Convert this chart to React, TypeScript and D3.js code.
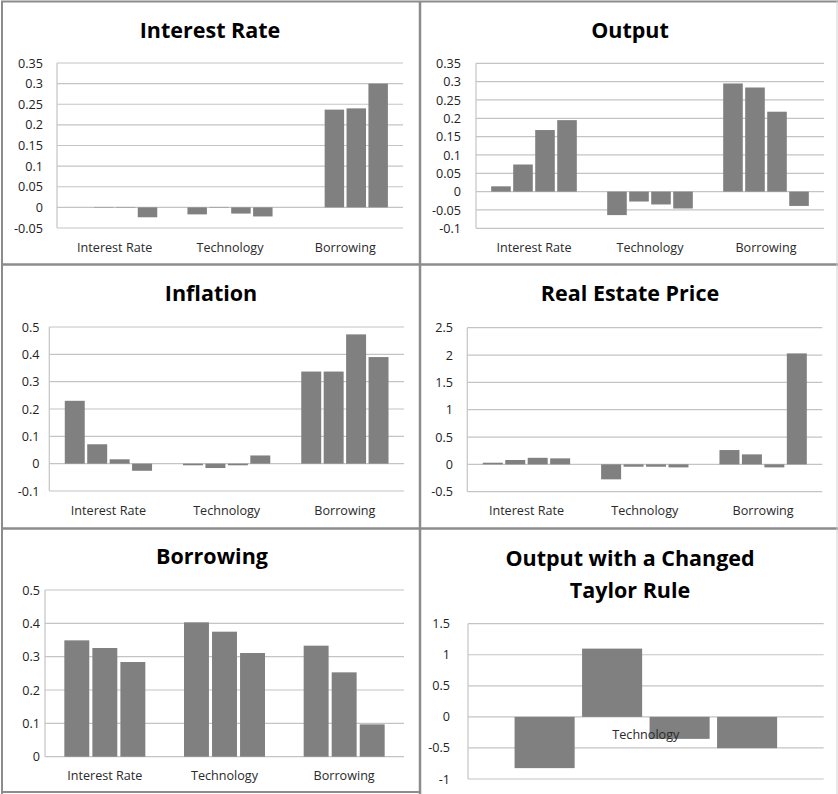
import React from "react";
import * as d3 from "d3";

// ---------- data ----------
const categories = ["Interest Rate", "Technology", "Borrowing"];

// values per category, one entry per series
const interestRateValues = [
  [0, 0.001, 0.001, -0.024],
  [-0.017, 0.001, -0.015, -0.022],
  [0, 0.237, 0.24, 0.3],
];
const outputValues = [
  [0.0145, 0.074, 0.168, 0.195],
  [-0.064, -0.027, -0.035, -0.046],
  [0.295, 0.284, 0.218, -0.039],
];
const inflationValues = [
  [0.23, 0.071, 0.016, -0.026],
  [-0.006, -0.016, -0.006, 0.03],
  [0.337, 0.337, 0.473, 0.39],
];
const realEstateValues = [
  [0.03, 0.08, 0.12, 0.11],
  [-0.274, -0.043, -0.043, -0.055],
  [0.262, 0.183, -0.055, 2.03],
];
const borrowingValues = [
  [0.349, 0.326, 0.284],
  [0.403, 0.375, 0.311],
  [0.333, 0.253, 0.097],
];
const taylorCategories = ["Technology"];
const taylorValues = [[-0.825, 1.099, -0.354, -0.504]];

const interestRateTicks = [-0.05, 0, 0.05, 0.1, 0.15, 0.2, 0.25, 0.3, 0.35];
const outputTicks = [-0.1, -0.05, 0, 0.05, 0.1, 0.15, 0.2, 0.25, 0.3, 0.35];
const inflationTicks = [-0.1, 0, 0.1, 0.2, 0.3, 0.4, 0.5];
const realEstateTicks = [-0.5, 0, 0.5, 1, 1.5, 2, 2.5];
const borrowingTicks = [0, 0.1, 0.2, 0.3, 0.4, 0.5];
const taylorTicks = [-1, -0.5, 0, 0.5, 1, 1.5];

// ---------- layout ----------
type Panel = {
  title: string[];
  titleX: number;
  titleY: number;
  left: number;
  right: number;
  top: number;
  bottom: number;
  ticks: number[];
  tickRight: number;
  labelY: number;
  cats: string[];
  values: number[][];
};

const panels: Panel[] = [
  { title: ["Interest Rate"], titleX: 210, titleY: 38, left: 57, right: 403, top: 63, bottom: 228, ticks: interestRateTicks, tickRight: 43, labelY: 251.5, cats: categories, values: interestRateValues },
  { title: ["Output"], titleX: 630, titleY: 38, left: 476, right: 824, top: 63.3, bottom: 228.3, ticks: outputTicks, tickRight: 461, labelY: 251.5, cats: categories, values: outputValues },
  { title: ["Inflation"], titleX: 211, titleY: 301, left: 49.3, right: 404, top: 327, bottom: 491, ticks: inflationTicks, tickRight: 39.5, labelY: 515, cats: categories, values: inflationValues },
  { title: ["Real Estate Price"], titleX: 630, titleY: 301, left: 467.3, right: 822.3, top: 327.7, bottom: 491.7, ticks: realEstateTicks, tickRight: 453, labelY: 515, cats: categories, values: realEstateValues },
  { title: ["Borrowing"], titleX: 212, titleY: 564, left: 45, right: 404, top: 590, bottom: 756.7, ticks: borrowingTicks, tickRight: 40, labelY: 780, cats: categories, values: borrowingValues },
  { title: ["Output with a Changed", "Taylor Rule"], titleX: 630, titleY: 566, left: 468, right: 823.7, top: 623.7, bottom: 779, ticks: taylorTicks, tickRight: 450, labelY: 739, cats: taylorCategories, values: taylorValues },
];

const FONT = "'Open Sans', Lato, sans-serif";
const BAR = "#808080";
const GRID = "#c4c4c4";
const BORDER = "#8c8c8c";

const fmt = (v: number) => String(+v.toFixed(2));

function ChartPanel({ p }: { p: Panel }) {
  const ext = d3.extent(p.ticks) as [number, number];
  const y = d3.scaleLinear().domain(ext).range([p.bottom, p.top]);
  const x0 = d3.scaleBand<string>().domain(p.cats).range([p.left, p.right]).padding(0);
  const nSeries = p.values[0].length;
  const x1 = d3
    .scaleBand<number>()
    .domain(d3.range(nSeries))
    .range([0, x0.bandwidth()])
    .paddingInner(0.11)
    .paddingOuter(0.69);
  return (
    <g>
      {p.title.map((t, i) => (
        <text
          key={t}
          x={p.titleX}
          y={p.titleY + i * 31.5}
          textAnchor="middle"
          fontFamily={FONT}
          fontWeight="bold"
          fontSize={21.5}
          fill="#000"
        >
          {t}
        </text>
      ))}
      {p.ticks.map((t) => (
        <g key={t}>
          <line x1={p.left} x2={p.right} y1={y(t)} y2={y(t)} stroke={GRID} strokeWidth={1.2} />
          <text
            x={p.tickRight}
            y={y(t)}
            dy="0.36em"
            textAnchor="end"
            fontFamily={FONT}
            fontSize={12.6}
            fill="#222"
          >
            {fmt(t)}
          </text>
        </g>
      ))}
      <line x1={p.left} x2={p.left} y1={p.top} y2={p.bottom} stroke={GRID} strokeWidth={1.2} />
      {p.cats.map((c, ci) =>
        p.values[ci].map((v, si) => {
          const x = (x0(c) as number) + (x1(si) as number);
          const y0 = y(0);
          const yv = y(v);
          return (
            <rect
              key={c + si}
              x={x}
              y={Math.min(y0, yv)}
              width={x1.bandwidth()}
              height={Math.abs(yv - y0)}
              fill={BAR}
            />
          );
        })
      )}
      {p.cats.map((c) => (
        <text
          key={c}
          x={(x0(c) as number) + x0.bandwidth() / 2}
          y={p.labelY}
          textAnchor="middle"
          fontFamily={FONT}
          fontSize={12.6}
          fill="#2a2a2a"
        >
          {c}
        </text>
      ))}
    </g>
  );
}

export default function App() {
  return (
    <svg
      width={838}
      height={794}
      style={{ position: "absolute", left: 0, top: 0, background: "#fff" }}
    >
      <rect x={0} y={0} width={838} height={794} fill="#fff" />
      {panels.map((p, i) => (
        <ChartPanel key={i} p={p} />
      ))}
      <line x1={2} x2={2} y1={1} y2={794} stroke={BORDER} strokeWidth={2} />
      <line x1={1} x2={838} y1={1.5} y2={1.5} stroke={BORDER} strokeWidth={2} />
      <line x1={420} x2={420} y1={1} y2={794} stroke={BORDER} strokeWidth={2.5} />
      <line x1={1} x2={838} y1={264.5} y2={264.5} stroke={BORDER} strokeWidth={2.5} />
      <line x1={1} x2={838} y1={528.5} y2={528.5} stroke={BORDER} strokeWidth={2.5} />
      <line x1={1} x2={420} y1={792} y2={792} stroke={BORDER} strokeWidth={2} />
      <line x1={837} x2={837} y1={1} y2={794} stroke="#d0d0d0" strokeWidth={1} />
    </svg>
  );
}
